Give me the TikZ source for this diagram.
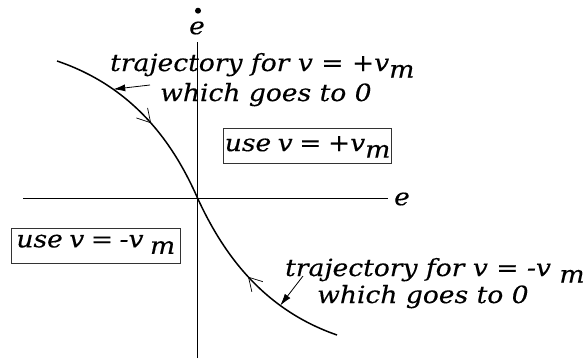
\documentclass[tikz,border=0pt]{standalone}
\usepackage{fontspec}
\setmainfont{DejaVu Serif}
\newfontfamily\lblfont{DejaVu Serif}[UprightFont={* Italic}, FakeStretch=1.12, FakeBold=0.3]
\usetikzlibrary{arrows.meta,decorations.markings}
\newcommand{\lsub}[1]{\raisebox{-6.5pt}{#1}}
\newcommand{\tightsp}{\spaceskip=6.5pt\relax}
\begin{document}
\begin{tikzpicture}[x=1pt,y=-1pt,
  lbl/.style={font=\fontsize{23.7}{28}\lblfont, inner sep=0pt},
  axisline/.style={line width=0.8pt},
  traj/.style={line width=1.5pt},
  ptr/.style={line width=0.8pt,-{Latex[length=12pt,width=7pt]}},
  ubox/.style={lbl, draw=black!80, line width=0.8pt, inner sep=0pt, minimum height=35pt},
  chevline/.style={line width=0.7pt}
]
\useasboundingbox (0,0) rectangle (586,362);
% axes
\coordinate (O) at (197.5,198);
\coordinate (Xl) at (23,198);
\coordinate (Xr) at (388,198);
\coordinate (Yt) at (197.5,42);
\coordinate (Yb) at (197.5,358);
\draw[axisline] (Xl) -- (Xr);
\draw[axisline] (Yb) -- (Yt);
\node[lbl, anchor=center] (elab) at (402,199) {e};
\node[lbl, anchor=center] (edlab) at (197,28) {e};
\fill (198,10.7) circle (3pt) coordinate (dot);
% trajectory
\coordinate (A) at (57,61);
\coordinate (B) at (337,335);
\draw[traj, postaction={decorate}, decoration={markings,
   mark=at position 0.56 with {\draw[chevline] (-13pt,7.5pt) -- (0pt,0pt) -- (-13pt,-7.5pt);}}]
  (A) .. controls (137,88) and (175.5,148) .. (O) coordinate[pos=0.27] (tA);
\draw[traj, postaction={decorate}, decoration={markings,
   mark=at position 0.47 with {\draw[chevline] (13pt,7.5pt) -- (0pt,0pt) -- (13pt,-7.5pt);}}]
  (O) .. controls (220.5,248) and (259,308) .. (B) coordinate[pos=0.72] (tB);
% labels
\node[lbl, anchor=base west] (t1a) at (110,71) {trajectory for v = +v\lsub{m}};
\node[lbl, anchor=base west] (t1b) at (160,101) {which goes to 0};
\node[lbl, anchor=base west] (t2a) at (285,276) {trajectory for v = -v \lsub{m}};
\node[lbl, anchor=base west] (t2b) at (317,303) {which goes to 0};
\coordinate (pA) at (150,85);
\coordinate (pB) at (303,276);
\draw[ptr] (pA) -- (tA);
\draw[ptr] (pB) -- (tB);
% boxes
\node[ubox, minimum width=168.4pt, text height=17pt, text depth=6.4pt] (boxP) at (307.6,145.8) {\tightsp use v = +v\lsub{m}};
\node[ubox, minimum width=168.3pt, text height=14pt, text depth=11pt] (boxM) at (95.8,245.8) {\tightsp use v = -v \lsub{m}};
\end{tikzpicture}
\end{document}
